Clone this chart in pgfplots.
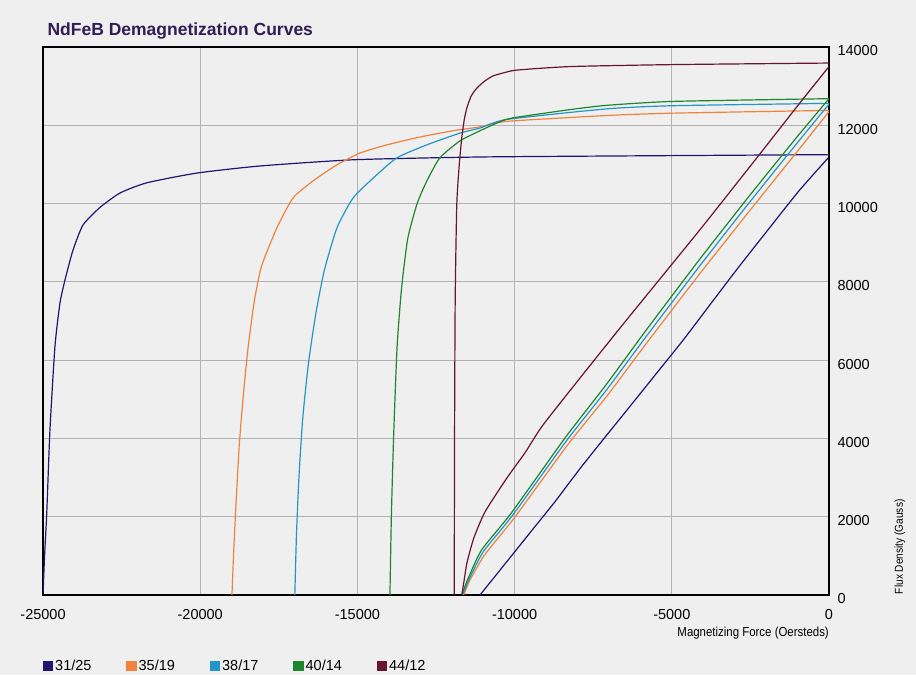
\documentclass[border=0pt]{standalone}
\usepackage{fontspec}
\setmainfont{Liberation Sans}
\newfontfamily\narrowfont[FakeStretch=0.88]{Liberation Sans}
\usepackage{pgfplots}
\pgfplotsset{compat=1.18}

\definecolor{bgc}{RGB}{239,239,239}
\definecolor{titlec}{RGB}{50,28,85}
\definecolor{c3125}{RGB}{30,22,112}
\definecolor{c3519}{RGB}{240,130,60}
\definecolor{c3817}{RGB}{35,150,200}
\definecolor{c4014}{RGB}{30,135,45}
\definecolor{c4412}{RGB}{105,20,48}

\begin{document}
\begin{tikzpicture}[x=1pt,y=1pt]
\fill[bgc] (0,0) rectangle (916,675);
\begin{axis}[
    at={(43pt,80pt)}, anchor=south west,
    scale only axis, width=786pt, height=548pt,
    xmin=-25000, xmax=0, ymin=0, ymax=14000,
    xtick={-25000,-20000,...,0},
    ytick={0,2000,...,14000},
    scaled ticks=false,
    grid=major,
    major grid style={gray!60, line width=0.8pt},
    axis line style={black, line width=1.6pt},
    major tick length=0pt,
    yticklabel pos=right,
    tick label style={font=\fontsize{14.5}{14.5}\selectfont},
    xticklabel style={yshift=-11pt},
    yticklabel style={anchor=west, xshift=5pt, yshift=-4pt},
    title={NdFeB Demagnetization Curves},
    title style={at={(axis description cs:0,1)}, anchor=south west,
        xshift=1pt, yshift=-2pt, color=titlec,
        font=\bfseries\fontsize{17.5}{17.5}\selectfont},
    xlabel={Magnetizing Force (Oersteds)},
    xlabel style={at={(axis description cs:1,0)}, anchor=north east,
        yshift=-32pt, inner sep=0pt, font=\narrowfont\fontsize{13}{13}\selectfont},
    ylabel={Flux Density (Gauss)},
    ylabel style={at={(axis description cs:1,0.088)}, anchor=center,
        rotate=0, yshift=-71pt, inner sep=0pt,
        font=\narrowfont\fontsize{11.5}{11.5}\selectfont},
    legend columns=5,
    legend style={at={(axis description cs:0,-0.1296)}, anchor=west,
        draw=none, fill=none, inner sep=0pt, outer sep=0pt,
        font=\fontsize{14.5}{14.5}\selectfont,
        /tikz/every odd column/.append style={column sep=0pt},
        /tikz/every even column/.append style={column sep=33pt}},
    legend image code/.code={\fill (0pt,-4.5pt) rectangle (9pt,4.5pt);},
    every axis plot/.append style={line width=1.2pt, smooth, tension=0.35},
    /pgf/number format/1000 sep={},
    /pgf/number format/assume math mode=true,
]

% intrinsic curves
\addplot[c3125] coordinates {
    (-25000,0) (-24950,1000) (-24880,2100) (-24780,4200) (-24620,6350)
    (-24460,7460) (-24300,8050) (-24050,8800) (-23730,9450) (-23190,9900)
    (-22550,10270) (-21700,10530) (-20100,10780) (-18100,10960)
    (-15100,11120) (-11100,11190) (-6000,11220) (0,11250)
};
\addlegendentry{31/25}

\addplot[c3519] coordinates {
    (-18990,0) (-18930,1200) (-18850,2500) (-18760,3800) (-18640,5000)
    (-18480,6300) (-18280,7500) (-18050,8400) (-17560,9380) (-17050,10140)
    (-16410,10580) (-15650,10990) (-14920,11290) (-14060,11500)
    (-13010,11700) (-11960,11860) (-11100,11960) (-10245,12100)
    (-7065,12250) (-4960,12310) (0,12380)
};
\addlegendentry{35/19}

\addplot[c3817] coordinates {
    (-16990,0) (-16940,1500) (-16860,3000) (-16740,4500) (-16560,5900)
    (-16320,7200) (-16050,8300) (-15650,9380) (-15140,10140) (-14500,10650)
    (-13740,11170) (-12790,11500) (-11740,11800) (-11100,11930)
    (-10245,12150) (-7065,12420) (-4960,12500) (0,12560)
};
\addlegendentry{38/17}

\addplot[c4014] coordinates {
    (-13965,0) (-13920,2000) (-13850,4000) (-13740,6300) (-13600,7800)
    (-13400,9100) (-13100,10000) (-12790,10580) (-12375,11170)
    (-11740,11600) (-11100,11860) (-10500,12080) (-10050,12190)
    (-8240,12400) (-7065,12510) (-4960,12610) (0,12680)
};
\addlegendentry{40/14}

\addplot[c4412] coordinates {
    (-11920,0) (-11910,4000) (-11890,7500) (-11840,9960) (-11760,11000)
    (-11680,11680) (-11600,12150) (-11520,12440) (-11380,12750)
    (-11200,12950) (-10950,13130) (-10690,13260) (-10300,13350)
    (-9930,13410) (-8240,13500) (-5000,13550) (0,13590)
};
\addlegendentry{44/12}

% normal curves
\addplot[c3125, forget plot] coordinates {
    (-11100,0) (-10300,800) (-9500,1600) (-8700,2400) (-7900,3250)
    (-7065,4090) (-6300,4850) (-5500,5650) (-4650,6500) (-3800,7400)
    (-2900,8350) (-1950,9320) (-950,10330) (0,11190)
};
\addplot[c3519, forget plot] coordinates {
    (-11620,0) (-11420,380) (-10950,1030) (-10000,1980) (-8300,3850)
    (-7020,5130) (-5760,6480) (-4060,8260) (-2460,9880) (-980,11360)
    (0,12350)
};
\addplot[c3817, forget plot] coordinates {
    (-11650,0) (-11450,400) (-11000,1100) (-10050,2050) (-8340,3950)
    (-7065,5250) (-5800,6620) (-4100,8420) (-2500,10060) (-1000,11560)
    (0,12540)
};
\addplot[c4014, forget plot] coordinates {
    (-11680,0) (-11480,420) (-11050,1150) (-10100,2100) (-8380,4030)
    (-7100,5360) (-5840,6740) (-4130,8560) (-2530,10200) (-1020,11700)
    (0,12680)
};
\addplot[c4412, forget plot] coordinates {
    (-11680,0) (-11600,400) (-11517,818) (-11300,1450) (-10944,2120)
    (-10245,2990) (-9672,3630) (-9100,4340) (-7764,5700) (-6492,6975)
    (-4107,9330) (-2422,11040) (-927,12570) (0,13500)
};
\end{axis}
\end{tikzpicture}
\end{document}
